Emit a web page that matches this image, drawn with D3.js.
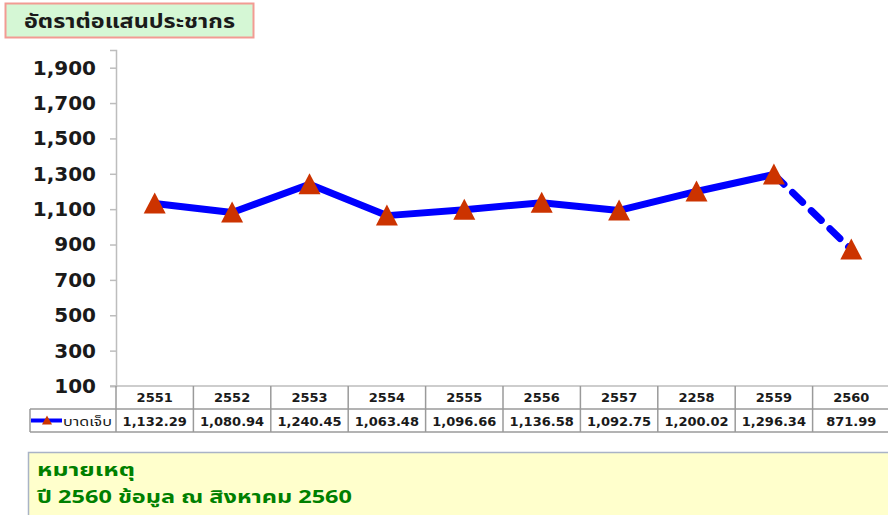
<!DOCTYPE html>
<html>
<head>
<meta charset="utf-8">
<script src="https://cdn.jsdelivr.net/npm/d3@7"></script>
<style>
  body { margin: 0; background: #ffffff; }
  svg { display: block; }
</style>
</head>
<body>
<svg id="chart" width="888" height="515" viewBox="0 0 888 515"></svg>
<script>
// ข้อมูล
var years = ["2551", "2552", "2553", "2554", "2555", "2556", "2557", "2258", "2559", "2560"];
var injured = [1132.29, 1080.94, 1240.45, 1063.48, 1096.66, 1136.58, 1092.75, 1200.02, 1296.34, 871.99];
var yTicks = [100, 300, 500, 700, 900, 1100, 1300, 1500, 1700, 1900];
var seriesName = "บาดเจ็บ";
var titleText = "อัตราต่อแสนประชากร";
var noteLines = ["หมายเหตุ", "ปี 2560 ข้อมูล ณ สิงหาคม 2560"];
var noteWidths = [98, 315];

var svg = d3.select("#chart");
var numFont = "'DejaVu Sans', Verdana, sans-serif";
var thaiFont = "Tahoma, 'Noto Sans Thai', 'Noto Sans', sans-serif";

var plotTop = 50, plotBottom = 386, plotLeft = 116, plotRight = 890;
var rowH = 23;

var xScale = d3.scaleBand().domain(years).range([plotLeft, plotRight]).padding(0);
var yScale = d3.scaleLinear().domain([100, 2000]).range([plotBottom, plotTop]);

// title box
var titleG = svg.append("g");
titleG.append("rect")
  .attr("x", 5.5).attr("y", 3.5).attr("width", 248).attr("height", 34)
  .attr("fill", "#d5f7d5").attr("stroke", "#f29b93").attr("stroke-width", 2);
titleG.append("text")
  .attr("x", 24).attr("y", 28)
  .attr("textLength", 211).attr("lengthAdjust", "spacingAndGlyphs")
  .attr("font-family", thaiFont).attr("font-weight", "bold").attr("font-size", 20)
  .attr("fill", "#1a1a1a")
  .text(titleText);

// y axis
var yAxis = d3.axisLeft(yScale).tickValues(yTicks).tickSize(6).tickPadding(14)
  .tickFormat(d3.format(","));
var yG = svg.append("g").attr("transform", "translate(" + plotLeft + ",0)").call(yAxis);
yG.select(".domain").attr("stroke", "#bdbdbd").attr("stroke-width", 1.5);
yG.selectAll(".tick line").attr("stroke", "#bdbdbd").attr("stroke-width", 1.5);
yG.selectAll(".tick text")
  .attr("font-family", numFont).attr("font-weight", "bold").attr("font-size", 20)
  .attr("fill", "#1a1a1a");

// table under the plot
var tableG = svg.append("g");
var lineColor = "#9a9a9a";
// header row text
tableG.selectAll("text.year").data(years).enter().append("text")
  .attr("class", "year")
  .attr("x", function (d) { return xScale(d) + xScale.bandwidth() / 2; })
  .attr("y", plotBottom + 16)
  .attr("text-anchor", "middle")
  .attr("font-family", numFont).attr("font-weight", "bold").attr("font-size", 13)
  .attr("fill", "#1a1a1a")
  .text(function (d) { return d; });
// value row text
tableG.selectAll("text.val").data(injured).enter().append("text")
  .attr("class", "val")
  .attr("x", function (d, i) { return xScale(years[i]) + xScale.bandwidth() / 2; })
  .attr("y", plotBottom + rowH + 17)
  .attr("text-anchor", "middle")
  .attr("font-family", numFont).attr("font-weight", "bold").attr("font-size", 13)
  .attr("fill", "#1a1a1a")
  .text(function (d) { return d3.format(",.2f")(d); });
// grid lines of the table
tableG.append("line")
  .attr("x1", plotLeft - 6).attr("x2", plotRight)
  .attr("y1", plotBottom).attr("y2", plotBottom)
  .attr("stroke", "#bdbdbd").attr("stroke-width", 1.5);
tableG.append("line")
  .attr("x1", 30).attr("x2", plotRight)
  .attr("y1", plotBottom + rowH).attr("y2", plotBottom + rowH)
  .attr("stroke", lineColor).attr("stroke-width", 1.5);
tableG.append("line")
  .attr("x1", 30).attr("x2", plotRight)
  .attr("y1", plotBottom + rowH * 2).attr("y2", plotBottom + rowH * 2)
  .attr("stroke", lineColor).attr("stroke-width", 1.5);
tableG.append("line")
  .attr("x1", 30).attr("x2", 30)
  .attr("y1", plotBottom + rowH).attr("y2", plotBottom + rowH * 2)
  .attr("stroke", lineColor).attr("stroke-width", 1.5);
tableG.selectAll("line.col").data(years.concat(["end"])).enter().append("line")
  .attr("class", "col")
  .attr("x1", function (d, i) { return i < years.length ? xScale(d) : plotRight; })
  .attr("x2", function (d, i) { return i < years.length ? xScale(d) : plotRight; })
  .attr("y1", plotBottom).attr("y2", plotBottom + rowH * 2)
  .attr("stroke", lineColor).attr("stroke-width", 1.5);

// legend in the table
var legY = plotBottom + rowH + 11.5;
tableG.append("line")
  .attr("x1", 31).attr("x2", 62).attr("y1", legY).attr("y2", legY)
  .attr("stroke", "#0000ff").attr("stroke-width", 4);
tableG.append("path")
  .attr("d", "M0,-5L5,4L-5,4Z")
  .attr("transform", "translate(47," + legY + ")")
  .attr("fill", "#cc3300");
tableG.append("text")
  .attr("x", 63).attr("y", legY + 5)
  .attr("textLength", 49).attr("lengthAdjust", "spacingAndGlyphs")
  .attr("font-family", thaiFont).attr("font-size", 13)
  .attr("fill", "#1a1a1a")
  .text(seriesName);

// line
var pts = injured.map(function (v, i) {
  return [xScale(years[i]) + xScale.bandwidth() / 2, yScale(v)];
});
var line = d3.line();
svg.append("path")
  .attr("d", line(pts.slice(0, pts.length - 1)))
  .attr("fill", "none").attr("stroke", "#0000ff").attr("stroke-width", 7)
  .attr("stroke-linejoin", "round").attr("stroke-linecap", "round");
svg.append("path")
  .attr("d", line(pts.slice(pts.length - 2)))
  .attr("fill", "none").attr("stroke", "#0000ff").attr("stroke-width", 7)
  .attr("stroke-dasharray", "14,12").attr("stroke-linecap", "round");

// markers
svg.selectAll("path.marker").data(pts).enter().append("path")
  .attr("class", "marker")
  .attr("d", "M0,-11L11,10L-11,10Z")
  .attr("transform", function (d) { return "translate(" + d[0] + "," + d[1] + ")"; })
  .attr("fill", "#cc3300");

// note box
var noteG = svg.append("g");
noteG.append("rect")
  .attr("x", 28.5).attr("y", 452.5).attr("width", 870).attr("height", 70)
  .attr("fill", "#ffffcc").attr("stroke", "#a9b3c6").attr("stroke-width", 1.5);
noteG.selectAll("text").data(noteLines).enter().append("text")
  .attr("x", 37).attr("y", function (d, i) { return 476 + i * 27; })
  .attr("textLength", function (d, i) { return noteWidths[i]; })
  .attr("lengthAdjust", "spacingAndGlyphs")
  .attr("font-family", thaiFont).attr("font-weight", "bold").attr("font-size", 18)
  .attr("fill", "#008000")
  .text(function (d) { return d; });
</script>
</body>
</html>
